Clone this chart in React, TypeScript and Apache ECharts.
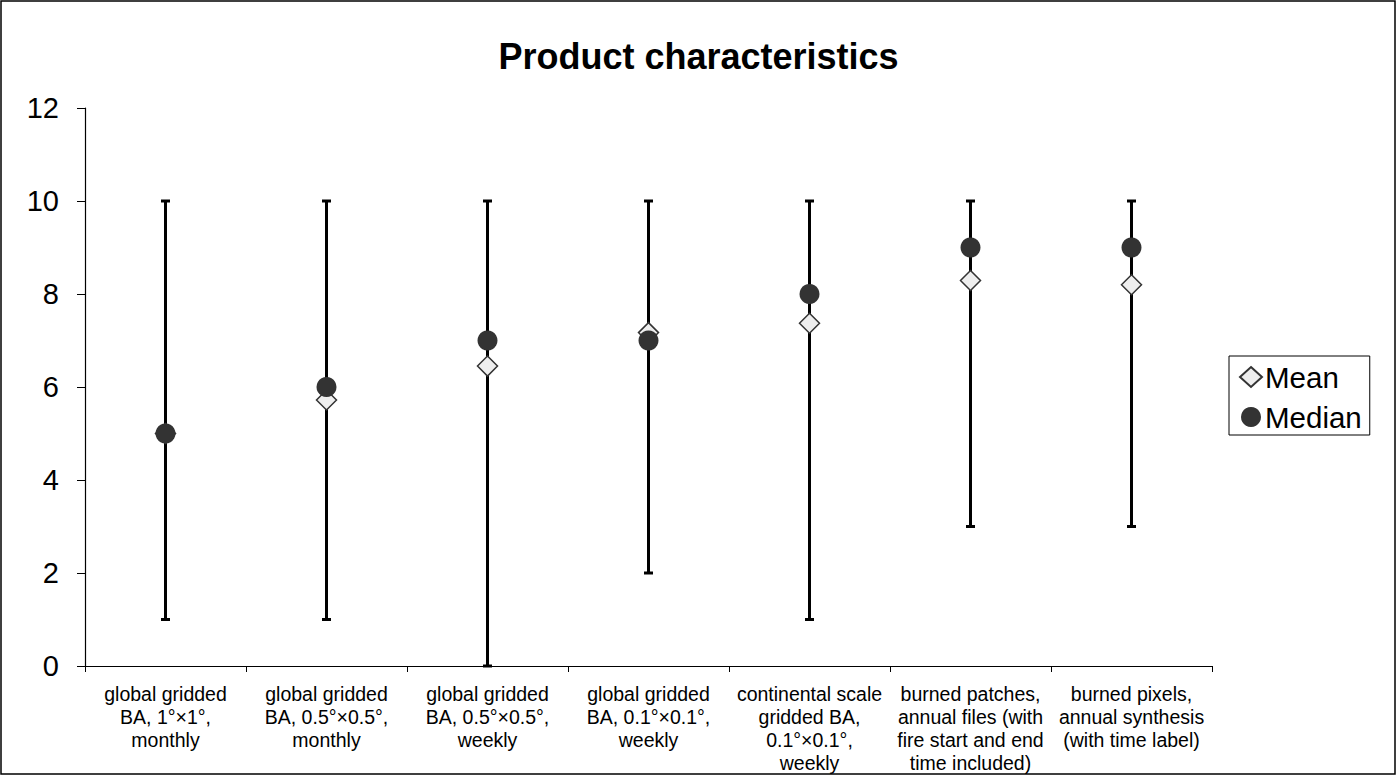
import React, { useEffect, useRef } from "react";
import * as echarts from "echarts";

const categories = [
  "global gridded\nBA, 1°×1°,\nmonthly",
  "global gridded\nBA, 0.5°×0.5°,\nmonthly",
  "global gridded\nBA, 0.5°×0.5°,\nweekly",
  "global gridded\nBA, 0.1°×0.1°,\nweekly",
  "continental scale\ngridded BA,\n0.1°×0.1°,\nweekly",
  "burned patches,\nannual files (with\nfire start and end\ntime included)",
  "burned pixels,\nannual synthesis\n(with time label)",
];
const minValues = [1, 1, 0, 2, 1, 3, 3];
const maxValues = [10, 10, 10, 10, 10, 10, 10];
const meanValues = [5.0, 5.72, 6.45, 7.17, 7.37, 8.29, 8.2];
const medianValues = [5, 6, 7, 7, 8, 9, 9];

const FONT = "Arial, 'Liberation Sans', sans-serif";

export default function App() {
  const ref = useRef<HTMLDivElement>(null);
  useEffect(() => {
    if (!ref.current) return;
    const chart = echarts.init(ref.current, null, { renderer: "svg" });
    const rangeData = categories.map((_, i) => [i, minValues[i], maxValues[i]]);
    chart.setOption({
      animation: false,
      backgroundColor: "#ffffff",
      title: {
        text: "Product characteristics",
        left: "center",
        top: 33,
        textStyle: { fontFamily: FONT, fontSize: 36, fontWeight: "bold", color: "#000" },
      },
      legend: {
        orient: "vertical",
        left: 1229,
        top: 356,
        data: ["Mean", "Median"],
        borderColor: "#000",
        borderWidth: 1,
        padding: [4, 8, 1, 10],
        itemGap: 6,
        itemWidth: 22,
        itemHeight: 20,
        textStyle: { fontFamily: FONT, fontSize: 29.5, lineHeight: 34, color: "#000", padding: [0, 0, 0, -2] },
      },
      graphic: [
        {
          type: "rect",
          shape: { x: 1, y: 1, width: 1394, height: 773 },
          style: { fill: "none", stroke: "#000", lineWidth: 1.5 },
          silent: true,
        },
      ],
      grid: { left: 85, right: 185, top: 108, bottom: 110 },
      xAxis: {
        type: "category",
        data: categories,
        boundaryGap: true,
        axisLine: { lineStyle: { color: "#000", width: 1.2 } },
        axisTick: { show: true, length: 6, lineStyle: { color: "#000" } },
        axisLabel: {
          interval: 0,
          margin: 16,
          fontFamily: FONT,
          fontSize: 19.5,
          lineHeight: 23,
          color: "#000",
          align: "center",
        },
        splitLine: { show: false },
      },
      yAxis: {
        type: "value",
        min: 0,
        max: 12,
        interval: 2,
        axisLine: { show: true, lineStyle: { color: "#000", width: 1.2 } },
        axisTick: { show: true, inside: false, length: 8, lineStyle: { color: "#000" } },
        axisLabel: { fontFamily: FONT, fontSize: 29, color: "#000", margin: 26 },
        splitLine: { show: false },
      },
      series: [
        {
          type: "custom",
          name: "range",
          data: rangeData,
          z: 1,
          renderItem: (params: any, api: any) => {
            const x = api.value(0);
            const lo = api.coord([x, api.value(1)]);
            const hi = api.coord([x, api.value(2)]);
            const cap = 4.5;
            const style = { stroke: "#000", lineWidth: 3 };
            return {
              type: "group",
              children: [
                { type: "line", shape: { x1: lo[0], y1: lo[1], x2: hi[0], y2: hi[1] }, style },
                { type: "line", shape: { x1: hi[0] - cap, y1: hi[1], x2: hi[0] + cap, y2: hi[1] }, style: { stroke: "#000", lineWidth: 3 } },
                { type: "line", shape: { x1: lo[0] - cap, y1: lo[1], x2: lo[0] + cap, y2: lo[1] }, style: { stroke: "#000", lineWidth: 3 } },
              ],
            };
          },
        },
        {
          type: "scatter",
          name: "Mean",
          data: meanValues,
          symbol: "diamond",
          symbolSize: 20,
          z: 2,
          itemStyle: { color: "#eeeeee", borderColor: "#333", borderWidth: 1.5, opacity: 1 },
        },
        {
          type: "scatter",
          name: "Median",
          data: medianValues,
          symbol: "circle",
          symbolSize: 20,
          z: 3,
          itemStyle: { color: "#333333", borderColor: "#333", borderWidth: 0, opacity: 1 },
        },
      ],
    });
    return () => chart.dispose();
  }, []);
  return (
    <div
      ref={ref}
      style={{ position: "fixed", left: 0, top: 0, width: 1397, height: 776 }}
    />
  );
}
